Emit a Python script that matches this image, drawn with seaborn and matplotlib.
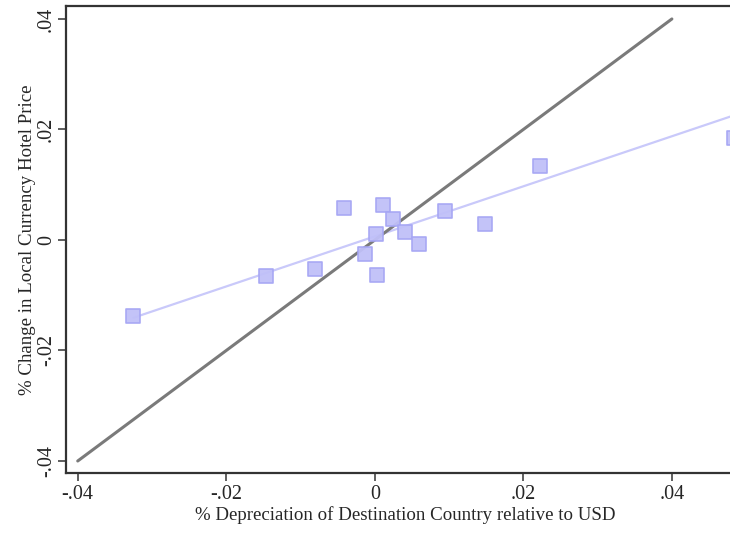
import numpy as np
import pandas as pd
import matplotlib
matplotlib.use("Agg")
import matplotlib.pyplot as plt
import seaborn as sns
from matplotlib.ticker import FuncFormatter

# --- data ---
depreciation = [-0.0325, -0.0146, -0.0081, -0.0041, -0.0013, 0.0001, 0.0003,
                0.0011, 0.0025, 0.0040, 0.0060, 0.0094, 0.0148, 0.0223, 0.0484]
price_change = [-0.0138, -0.0065, -0.0052, 0.0057, -0.0025, 0.0011, -0.0064,
                0.0063, 0.0038, 0.0014, -0.0007, 0.0052, 0.0029, 0.0134, 0.0185]
diag = [-0.04, 0.04]
ticks = [-0.04, -0.02, 0.0, 0.02, 0.04]
# fitted line (slope, intercept)
fit_slope = 0.453
fit_intercept = 0.00065

df = pd.DataFrame({"dep": depreciation, "chg": price_change})
fit = pd.DataFrame({"dep": [min(depreciation), max(depreciation)]})
fit["chg"] = fit_intercept + fit_slope * fit["dep"]

sns.set_style("white")
plt.rcParams["font.family"] = ["Liberation Serif", "DejaVu Serif"]

fig = plt.figure(figsize=(7.3, 5.33), dpi=100)
# axes run past the right edge, as in the cropped reference
ax = fig.add_axes([0.090, 0.1126, 0.9305, 0.8762])

# 45 degree reference line
ax.plot(diag, diag, color="#7a7a7a", lw=2.2, zorder=2)

# linear fit + scatter
sns.lineplot(data=fit, x="dep", y="chg", ax=ax, color="#c9c9fa", lw=1.6, zorder=1)
sns.scatterplot(data=df, x="dep", y="chg", ax=ax, marker="s", s=105,
                color="#c0c0f8", edgecolor="#a6a6f4", linewidth=1.2,
                alpha=0.95, zorder=3)

ax.set_xlim(-0.04162, 0.04984)
ax.set_ylim(-0.04217, 0.04235)
ax.set_xticks(ticks)
ax.set_yticks(ticks)

fmt = FuncFormatter(lambda v, p: "0" if abs(v) < 1e-9 else
                    ("-" if v < 0 else "") + ("%.2f" % abs(v)).lstrip("0"))
ax.xaxis.set_major_formatter(fmt)
ax.yaxis.set_major_formatter(fmt)

ax.tick_params(axis="both", direction="out", length=6, width=1.1,
               color="#333333", labelsize=14.5, left=True, bottom=True)
ax.tick_params(axis="x", pad=3)
ax.tick_params(axis="y", pad=1)
for lab in ax.get_yticklabels():
    lab.set_rotation(90)
    lab.set_va("center")

for s in ax.spines.values():
    s.set_color("#333333")
    s.set_linewidth(1.6)

ax.set_xlabel("% Depreciation of Destination Country relative to USD",
              fontsize=13.6, labelpad=1)
ax.set_ylabel("% Change in Local Currency Hotel Price", fontsize=13.6, labelpad=1)

fig.savefig("out.png", dpi=100)
